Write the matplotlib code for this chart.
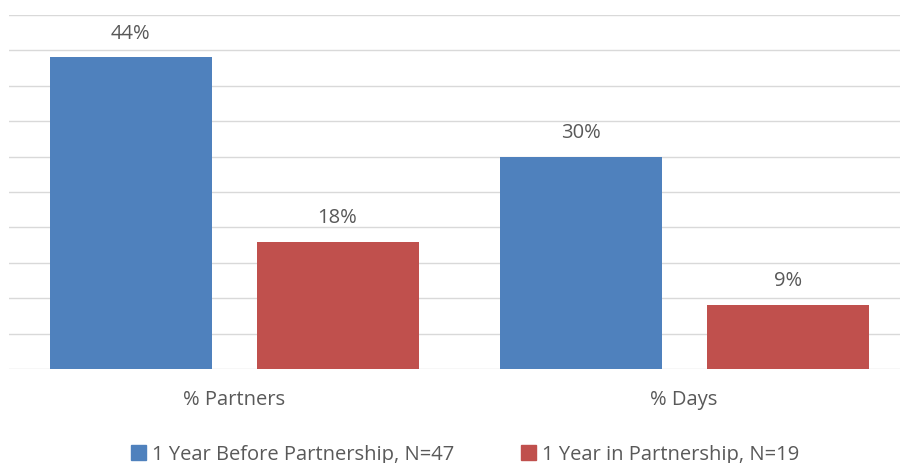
import matplotlib
matplotlib.use("Agg")
import matplotlib.pyplot as plt
from matplotlib.patches import Patch
import numpy as np

categories = ["% Partners", "% Days"]
series_names = ["1 Year Before Partnership, N=47", "1 Year in Partnership, N=19"]
before = [44, 30]
during = [18, 9]
colors = ["#4F81BD", "#C0504D"]

plt.rcParams['font.family'] = ['Open Sans', 'DejaVu Sans']
text_color = "#595959"
fs = 14.5

fig = plt.figure(figsize=(9.01, 4.63), dpi=100)
ax = fig.add_axes([0.01, 0.203, 0.989, 0.7646])

x = np.arange(len(categories))
w = 0.36
off = 0.23
b1 = ax.bar(x - off, before, w, color=colors[0], zorder=3)
b2 = ax.bar(x + off, during, w, color=colors[1], zorder=3)

for bars, vals in ((b1, before), (b2, during)):
    for r, v in zip(bars, vals):
        ax.annotate(f"{v}%", (r.get_x() + r.get_width() / 2, v),
                    xytext=(0, 10), textcoords="offset points",
                    ha="center", va="bottom", fontsize=fs, color=text_color)

ax.set_ylim(0, 50)
ax.set_yticks(np.arange(0, 51, 5))
ax.set_xlim(-0.5, 1.48)
ax.yaxis.grid(True, color="#d9d9d9", linewidth=1, zorder=0)
ax.set_yticklabels([])
ax.tick_params(axis="y", length=0)
ax.set_xticks(x)
ax.set_xticklabels(categories, fontsize=fs, color=text_color)
ax.tick_params(axis="x", length=0, pad=15)
for s in ax.spines.values():
    s.set_visible(False)

handles = [Patch(color=c) for c in colors]
fig.legend(handles, series_names, loc="center", bbox_to_anchor=(0.516, 0.018),
           ncol=2, frameon=False, fontsize=fs, labelcolor=text_color,
           handlelength=0.75, handleheight=0.75, handletextpad=0.3, columnspacing=3.3)

fig.savefig("out.png", dpi=100)
